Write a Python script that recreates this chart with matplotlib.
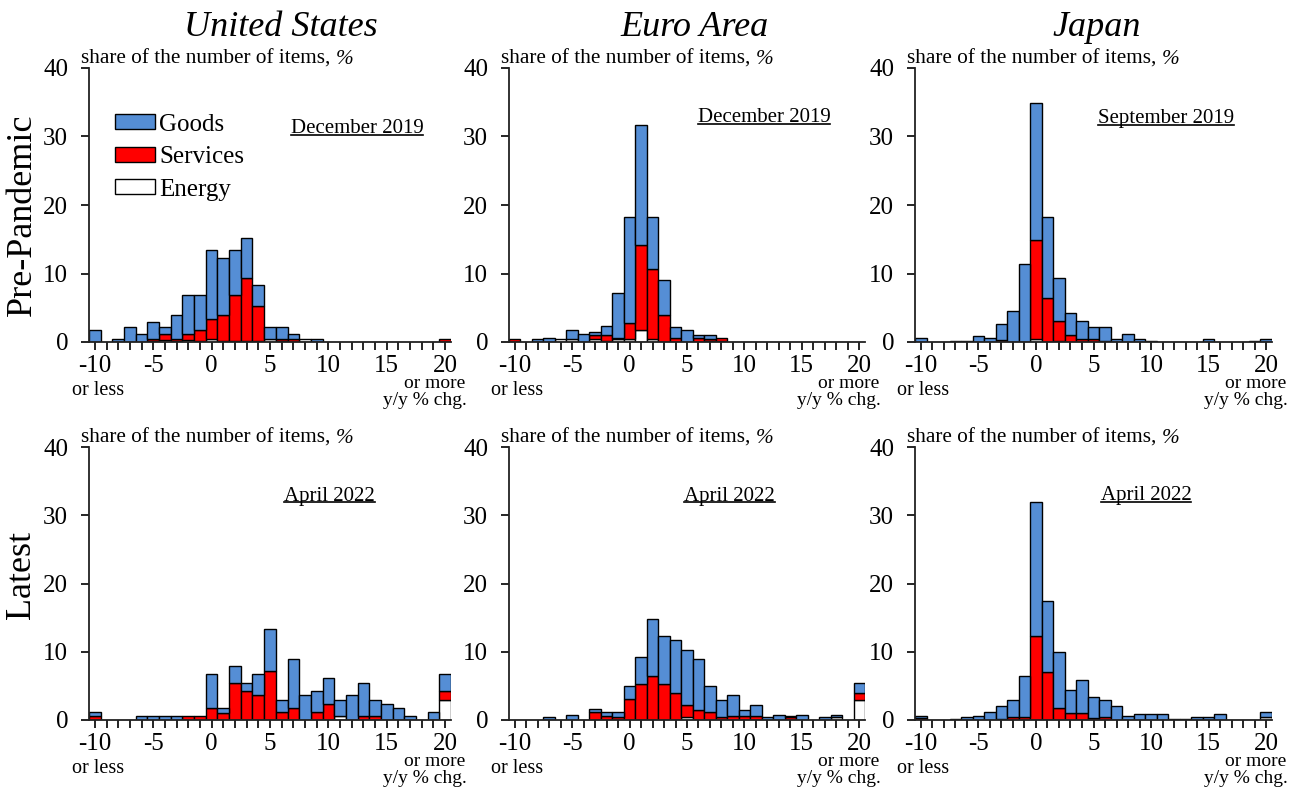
import matplotlib
matplotlib.use("Agg")
import matplotlib.pyplot as plt  # noqa: E402
from matplotlib.patches import Patch  # noqa: E402
from matplotlib.lines import Line2D  # noqa: E402

plt.rcParams["font.family"] = ["Liberation Serif", "DejaVu Serif"]
plt.rcParams["axes.unicode_minus"] = False

# y/y % change bins, -10 = "or less", 20 = "or more"
bins = list(range(-10, 21))

# share of the number of items (%) per bin, stacked: energy, services, goods
#   rows of each list: bins -10..-1 / 0..9 / 10..20
us_pre_goods = [1.8, 0, 0.45, 2.25, 1.1, 2.5, 1.15, 3.6, 5.8, 5.15,
                10.0, 8.3, 6.5, 5.8, 3.1, 1.85, 1.85, 0.7, 0, 0.45,
                0, 0, 0, 0, 0, 0, 0, 0, 0, 0, 0]
us_pre_services = [0, 0, 0, 0, 0, 0.3, 0.8, 0.3, 0.8, 1.55,
                   3.0, 3.8, 6.7, 9.2, 5.1, 0, 0.3, 0.4, 0, 0,
                   0, 0, 0, 0, 0, 0, 0, 0, 0, 0, 0.45]
us_pre_energy = [0, 0, 0, 0, 0, 0.1, 0.3, 0.1, 0.3, 0.2,
                 0.4, 0.2, 0.2, 0.2, 0.1, 0.4, 0.1, 0, 0.45, 0,
                 0, 0, 0, 0, 0, 0, 0, 0, 0, 0, 0]

ea_pre_goods = [0, 0, 0.4, 0.65, 0, 1.3, 1.1, 0.5, 1.4, 6.5,
                15.5, 17.6, 7.7, 5.1, 1.6, 1.75, 0.4, 0.5, 0, 0,
                0, 0, 0, 0, 0, 0, 0, 0, 0, 0, 0]
ea_pre_services = [0.4, 0, 0, 0, 0, 0, 0, 0.6, 0.8, 0.2,
                   2.35, 12.4, 10.15, 4.0, 0.6, 0, 0.6, 0.3, 0.4, 0,
                   0, 0, 0, 0, 0, 0, 0, 0, 0, 0, 0]
ea_pre_energy = [0, 0, 0, 0, 0.45, 0.45, 0, 0.4, 0.2, 0.4,
                 0.45, 1.7, 0.45, 0, 0, 0, 0, 0.2, 0.2, 0,
                 0, 0, 0, 0, 0, 0, 0, 0, 0, 0, 0]

jp_pre_goods = [0.65, 0, 0, 0.15, 0.15, 0.9, 0.65, 2.35, 4.5, 11.4,
                20.0, 11.8, 6.2, 3.2, 2.65, 1.8, 2.1, 0.45, 1.1, 0.4,
                0.2, 0, 0, 0, 0, 0.45, 0, 0, 0, 0.2, 0.45]
jp_pre_services = [0, 0, 0, 0, 0, 0, 0, 0.35, 0, 0,
                   14.5, 6.4, 2.9, 1.0, 0.45, 0.4, 0.1, 0, 0, 0,
                   0, 0, 0, 0, 0, 0, 0, 0, 0, 0, 0]
jp_pre_energy = [0, 0, 0, 0, 0, 0, 0, 0, 0, 0,
                 0.4, 0, 0.2, 0, 0, 0, 0, 0, 0, 0,
                 0, 0, 0, 0, 0, 0, 0, 0, 0, 0, 0]

us_now_goods = [0.5, 0, 0, 0, 0.6, 0.6, 0.6, 0.6, 0, 0,
                4.9, 0.8, 2.5, 1.1, 3.1, 6.1, 1.9, 7.2, 3.6, 3.2,
                3.7, 2.4, 3.6, 4.8, 2.4, 2.4, 1.8, 0.6, 0, 1.1, 2.4]
us_now_services = [0.6, 0, 0, 0, 0, 0, 0, 0, 0.6, 0.6,
                   1.8, 1.0, 5.4, 4.3, 3.6, 7.2, 1.1, 1.8, 0, 1.1,
                   2.4, 0, 0, 0.6, 0.6, 0, 0, 0, 0, 0, 1.4]
us_now_energy = [0, 0, 0, 0, 0, 0, 0, 0, 0, 0,
                 0, 0, 0, 0, 0, 0, 0, 0, 0, 0,
                 0, 0.6, 0, 0, 0, 0, 0, 0, 0, 0, 2.9]

ea_now_goods = [0, 0, 0, 0.5, 0, 0.7, 0, 0.45, 0.5, 0.7,
                1.9, 3.9, 8.3, 7.0, 7.7, 8.1, 7.5, 3.9, 2.5, 3.0,
                0.9, 1.6, 0.45, 0.7, 0.15, 0.7, 0, 0.45, 0.3, 0, 1.4]
ea_now_services = [0, 0, 0, 0, 0, 0, 0, 1.1, 0.6, 0.4,
                   3.1, 5.3, 6.5, 5.3, 4.0, 1.75, 1.5, 1.1, 0.4, 0.6,
                   0.6, 0.6, 0, 0, 0.45, 0, 0, 0, 0, 0, 1.0]
ea_now_energy = [0, 0, 0, 0, 0, 0, 0, 0, 0, 0,
                 0, 0, 0, 0, 0, 0.45, 0, 0, 0, 0,
                 0, 0, 0, 0, 0, 0, 0, 0, 0.4, 0, 3.0]

jp_now_goods = [0.35, 0, 0, 0.15, 0.45, 0.65, 1.1, 1.8, 2.5, 6.1,
                19.6, 10.4, 8.3, 3.4, 4.8, 3.0, 2.4, 2.0, 0.6, 0.9,
                0.9, 0.9, 0.2, 0.2, 0.4, 0.4, 0.9, 0, 0, 0, 0.7]
jp_now_services = [0.3, 0, 0, 0, 0, 0, 0, 0.2, 0.4, 0.4,
                   12.3, 7.1, 1.7, 1.0, 1.0, 0.3, 0.5, 0, 0, 0,
                   0, 0, 0, 0, 0, 0, 0, 0, 0, 0, 0]
jp_now_energy = [0, 0, 0, 0, 0, 0, 0, 0, 0, 0,
                 0, 0, 0, 0, 0, 0, 0, 0, 0, 0,
                 0, 0, 0, 0, 0, 0, 0, 0, 0, 0, 0.4]

regions = ["United States", "Euro Area", "Japan"]
dates_pre = ["December 2019", "December 2019", "September 2019"]
dates_now = ["April 2022", "April 2022", "April 2022"]
row_labels = ["Pre-Pandemic", "Latest"]

panels = [
    [(us_pre_energy, us_pre_services, us_pre_goods),
     (ea_pre_energy, ea_pre_services, ea_pre_goods),
     (jp_pre_energy, jp_pre_services, jp_pre_goods)],
    [(us_now_energy, us_now_services, us_now_goods),
     (ea_now_energy, ea_now_services, ea_now_goods),
     (jp_now_energy, jp_now_services, jp_now_goods)],
]

GOODS_C = "#558ED5"
SERV_C = "#FF0000"
ENERGY_C = "white"

W, H = 1293, 790
fig = plt.figure(figsize=(W / 100, H / 100), dpi=100)

# axes placement in pixels: (left, right) per column, (top, bottom) per row
cols_px = [(89, 451), (509, 865), (915, 1272)]
rows_px = [(68, 342), (447, 720)]
# date label (centre x frac, baseline y px) per panel
date_pos = [[(0.74, 133), (0.716, 122), (0.703, 123)],
            [(0.665, 501), (0.62, 501), (0.647, 500)]]

axes = []
for r, (top, bot) in enumerate(rows_px):
    for c, (lft, rgt) in enumerate(cols_px):
        ax = fig.add_axes([lft / W, 1 - bot / H, (rgt - lft) / W, (bot - top) / H])
        energy, services, goods = panels[r][c]
        bottom = [0.0] * len(bins)
        for vals, col in ((energy, ENERGY_C), (services, SERV_C), (goods, GOODS_C)):
            edges = ["black" if v > 0 else "none" for v in vals]
            ax.bar(bins, vals, width=1.0, bottom=bottom, color=col,
                   edgecolor=edges, linewidth=1.0, zorder=2)
            bottom = [b + v for b, v in zip(bottom, vals)]

        ax.set_xlim(-10.5, 20.5)
        ax.set_ylim(0, 40)
        ax.set_xticks(range(-10, 21, 5))
        ax.set_xticks(bins, minor=True)
        ax.set_yticks(range(0, 41, 10))
        ax.tick_params(axis="both", which="both", direction="out", length=6,
                       width=1.2, labelsize=18)
        ax.tick_params(axis="x", pad=3.5)
        ax.tick_params(axis="y", pad=9)
        for side in ("top", "right"):
            ax.spines[side].set_visible(False)
        for side in ("left", "bottom"):
            ax.spines[side].set_linewidth(1.3)
            ax.spines[side].set_color("#222222")

        ax.annotate("or less", xy=(-10, 0), xycoords=("data", "axes fraction"),
                    xytext=(2, -35), textcoords="offset points",
                    ha="center", va="center", fontsize=14.5)
        ax.annotate("or more", xy=(20.5, 0), xycoords=("data", "axes fraction"),
                    xytext=(10, -30), textcoords="offset points",
                    ha="right", va="center", fontsize=14)
        ax.annotate("y/y % chg.", xy=(20.5, 0), xycoords=("data", "axes fraction"),
                    xytext=(11.5, -42), textcoords="offset points",
                    ha="right", va="center", fontsize=14)
        axes.append((ax, r, c))

# column titles and row labels
title_x = [281, 695, 1097]
for c, name in enumerate(regions):
    fig.text(title_x[c] / W, 1 - 36 / H, name, ha="center", va="baseline",
             fontsize=26, style="italic")
fig.text(22 / W, 1 - 215 / H, row_labels[0], rotation=90, ha="center",
         va="center", fontsize=26)
fig.text(22 / W, 1 - 575 / H, row_labels[1], rotation=90, ha="center",
         va="center", fontsize=26)

# legend in the first panel
handles = [Patch(facecolor=GOODS_C, edgecolor="black", linewidth=1.0),
           Patch(facecolor=SERV_C, edgecolor="black", linewidth=1.0),
           Patch(facecolor=ENERGY_C, edgecolor="black", linewidth=1.0)]
axes[0][0].legend(handles, ["Goods", "Services", "Energy"], loc="upper left",
                  bbox_to_anchor=(0.045, 0.87), frameon=False, fontsize=18,
                  handlelength=1.6, handleheight=0.55, handletextpad=0.15,
                  labelspacing=0.42, borderaxespad=0)

# y-axis captions and underlined dates (need renderer for text widths)
fig.canvas.draw()
renderer = fig.canvas.get_renderer()
for ax, r, c in axes:
    cap = ax.annotate("share of the number of items, ", xy=(0, 1),
                      xycoords="axes fraction", xytext=(-6, 3),
                      textcoords="offset points", ha="left", va="baseline",
                      fontsize=15.3)
    bb = cap.get_window_extent(renderer)
    pos = ax.get_position()
    base_y = pos.y1 + 3 * (100 / 72) / H
    fig.text(bb.x1 / W, base_y, "%", ha="left", va="baseline", fontsize=15.3,
             style="italic")

    label = dates_pre[c] if r == 0 else dates_now[c]
    fx, by = date_pos[r][c]
    x_fig = pos.x0 + fx * pos.width
    t = fig.text(x_fig, 1 - by / H, label, ha="center", va="baseline", fontsize=15)
    tb = t.get_window_extent(renderer)
    uy = 1 - (by + 1.5) / H
    fig.add_artist(Line2D([tb.x0 / W, tb.x1 / W], [uy, uy], color="black",
                          linewidth=1.2, transform=fig.transFigure))

fig.savefig("out.png", dpi=100)
plt.close(fig)
